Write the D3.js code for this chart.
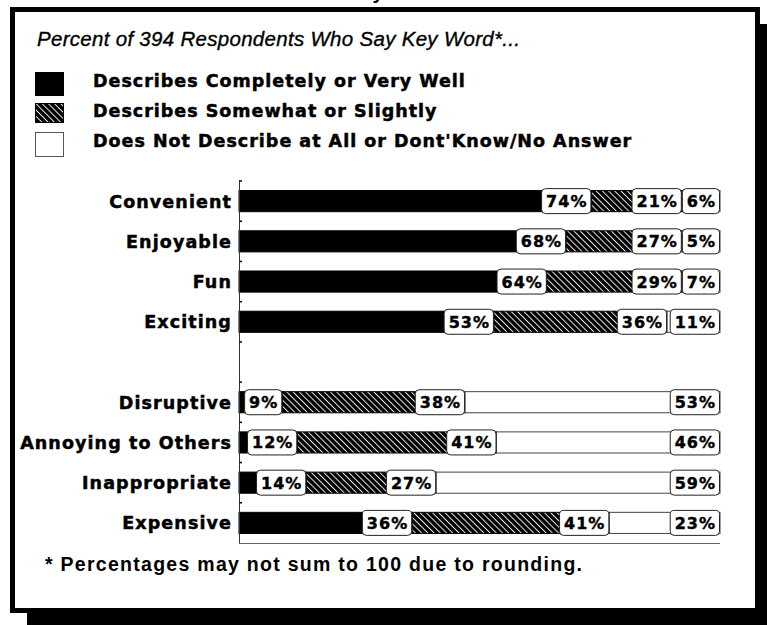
<!DOCTYPE html>
<html><head><meta charset="utf-8">
<script src="https://cdn.jsdelivr.net/npm/d3@7"></script>
<style>html,body{margin:0;padding:0;background:#fff;}svg{display:block;}</style>
</head><body>
<svg id="chart" width="767" height="625"></svg>
<script>
const categories = ["Convenient","Enjoyable","Fun","Exciting","Disruptive","Annoying to Others","Inappropriate","Expensive"];
const completely = [74,68,64,53,9,12,14,36];
const somewhat   = [21,27,29,36,38,41,27,41];
const notAtAll   = [6,5,7,11,53,46,59,23];
const seriesNames = ["Describes Completely or Very Well","Describes Somewhat or Slightly","Does Not Describe at All or Dont'Know/No Answer"];
const seriesKeys = ["completely","somewhat","notAtAll"];
const gapAfter = "Exciting";
const titleText = "Percent of 394 Respondents Who Say Key Word*...";
const footnoteText = "* Percentages may not sum to 100 due to rounding.";

const svg = d3.select("#chart");
const W = 767, H = 625;
const heavy = "DejaVu Sans, sans-serif";
const arial = "Liberation Sans, Arial, sans-serif";

// shadow + frame
svg.append("rect").attr("x",27).attr("y",24).attr("width",W).attr("height",H).attr("fill","#000");
svg.append("rect").attr("x",12.5).attr("y",9.5).attr("width",745).attr("height",601)
  .attr("fill","#fff").attr("stroke","#000").attr("stroke-width",5);

// clipped top title remnant
svg.append("text").attr("x",378).attr("y",-1).attr("text-anchor","middle")
  .attr("font-family",arial).attr("font-weight","bold").attr("font-size",20)
  .text("y");

// hatch pattern
const defs = svg.append("defs");
const pat = defs.append("pattern").attr("id","hatch").attr("patternUnits","userSpaceOnUse")
  .attr("width",4.4).attr("height",4.4).attr("patternTransform","rotate(-45)");
pat.append("rect").attr("width",4.4).attr("height",4.4).attr("fill","#000");
pat.append("line").attr("x1",0.5).attr("y1",0).attr("x2",0.5).attr("y2",4.4).attr("stroke","#fff").attr("stroke-width",0.9);

const fills = {completely:"#000", somewhat:"url(#hatch)", notAtAll:"#fff"};
const strokes = {completely:"#000", somewhat:"#000", notAtAll:"#444"};

// title
svg.append("text").attr("x",37).attr("y",46)
  .attr("font-family",arial).attr("font-style","italic").attr("font-size",20.5)
  .attr("stroke","#000").attr("stroke-width",0.35)
  .attr("textLength",483).attr("lengthAdjust","spacing")
  .text(titleText);

// legend
const legSquares = [{y:72,h:24},{y:103,h:20},{y:132,h:25}];
const legBase = [87,117,147];
seriesKeys.forEach((k,i)=>{
  svg.append("rect").attr("x",35.5).attr("y",legSquares[i].y+0.5).attr("width",28).attr("height",legSquares[i].h-1)
    .attr("fill",fills[k]).attr("stroke",k==="notAtAll"?"#555":"#000").attr("stroke-width",1);
  svg.append("text").attr("x",93).attr("y",legBase[i])
    .attr("font-family",heavy).attr("font-weight","bold").attr("font-size",17.5)
    .attr("stroke","#000").attr("stroke-width",0.5)
    .attr("letter-spacing",1.0)
    .text(seriesNames[i]);
});

// data rows
const rows = categories.map((c,i)=>({category:c, completely:completely[i], somewhat:somewhat[i], notAtAll:notAtAll[i]}));
const slots = [];
categories.forEach(c=>{ slots.push(c); if(c===gapAfter) slots.push("__gap__"); });

const x = d3.scaleLinear().domain([0,100]).range([239,720]);
const y = d3.scaleBand().domain(slots).range([181,543]).paddingInner(0.45).paddingOuter(0.225);

const normRows = rows.map(r=>{
  const s = r.completely + r.somewhat + r.notAtAll;
  return {category:r.category, completely:r.completely*100/s, somewhat:r.somewhat*100/s, notAtAll:r.notAtAll*100/s, raw:r};
});
const stack = d3.stack().keys(seriesKeys)(normRows);

// bars
const g = svg.append("g");
stack.forEach(layer=>{
  g.selectAll(null).data(layer).join("rect")
    .attr("x",d=>x(d[0])).attr("y",d=>y(d.data.category)+0.5)
    .attr("width",d=>Math.max(0,x(d[1])-x(d[0]))).attr("height",y.bandwidth()-1)
    .attr("fill",fills[layer.key]).attr("stroke",strokes[layer.key]).attr("stroke-width",1);
});

// axis
const y0 = y.range()[0], y1 = y.range()[1];
svg.append("line").attr("x1",239.5).attr("x2",239.5).attr("y1",y0-1).attr("y2",y1).attr("stroke","#333").attr("stroke-width",1);
svg.append("line").attr("x1",239).attr("x2",720).attr("y1",y1+0.5).attr("y2",y1+0.5).attr("stroke","#666").attr("stroke-width",1);
d3.range(slots.length).forEach(i=>{
  const yy = y0 + i*y.step();
  svg.append("line").attr("x1",239.5).attr("x2",242).attr("y1",yy).attr("y2",yy).attr("stroke","#000").attr("stroke-width",1.5);
});

// category labels
categories.forEach(c=>{
  svg.append("text").attr("x",232).attr("y",y(c)+y.bandwidth()/2+6.5).attr("text-anchor","end")
    .attr("font-family",heavy).attr("font-weight","bold").attr("font-size",17.5)
    .attr("stroke","#000").attr("stroke-width",0.5)
    .attr("letter-spacing",1.1)
    .text(c);
});

// value labels with boxes
normRows.forEach((r,ri)=>{
  const cy = y(r.category) + y.bandwidth()/2;
  const segs = stack.map(layer=>({key:layer.key, end:x(layer[ri][1]), val:r.raw[layer.key]}));
  let limit = Infinity;
  for(let k=segs.length-1;k>=0;k--){
    const s = segs[k];
    const lg = svg.append("g");
    const rect = lg.append("rect");
    const t = lg.append("text").attr("font-family",heavy).attr("font-weight","bold")
      .attr("font-size",16).attr("letter-spacing",1).attr("text-anchor","middle")
      .attr("stroke","#000").attr("stroke-width",0.4)
      .text(s.val+"%");
    const tw = t.node().getComputedTextLength();
    const w = tw + 9;
    const right = Math.min(s.end, limit);
    const left = right - w;
    rect.attr("x",left+0.5).attr("y",cy-12.5).attr("width",w-1).attr("height",25).attr("rx",4)
      .attr("fill","#fff").attr("stroke","#222").attr("stroke-width",1);
    t.attr("x",left + w/2 + 0.5).attr("y",cy+6);
    limit = left;
  }
});

// footnote
svg.append("text").attr("x",45).attr("y",571)
  .attr("font-family",arial).attr("font-weight","bold").attr("font-size",19.5)
  .attr("textLength",537).attr("lengthAdjust","spacing")
  .text(footnoteText);
</script>
</body></html>
